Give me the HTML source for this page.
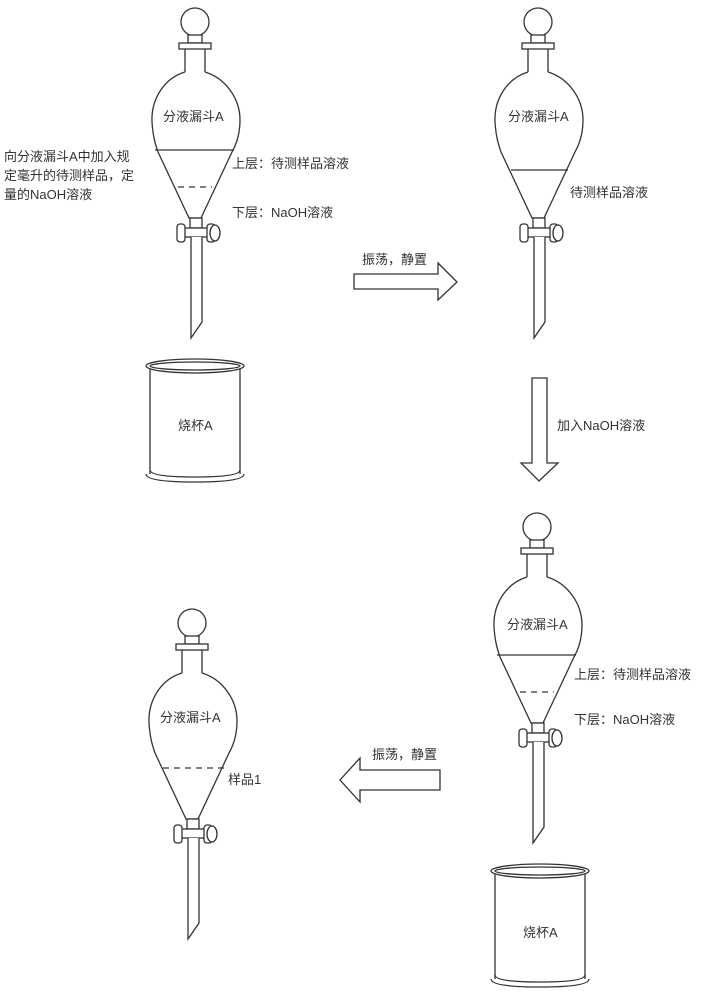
<!DOCTYPE html>
<html><head><meta charset="utf-8"><style>
html,body{margin:0;padding:0;background:#fff;}
svg{display:block;}
text{font-family:"Liberation Sans","Noto Sans CJK SC",sans-serif;font-size:13px;fill:#333;}
</style></head><body>
<svg width="702" height="1000" viewBox="0 0 702 1000" xmlns="http://www.w3.org/2000/svg">
<defs>
<g id="fun" fill="#fff" stroke="#333" stroke-width="1.3">
  <circle cx="195" cy="22" r="14"/>
  <rect x="188" y="35" width="14" height="8"/>
  <rect x="179" y="43" width="32" height="6"/>
  <path d="M185,49 L185,72 M205,49 L205,72" fill="none"/>
  <path d="M185,72 C165,78 151,98 152,122 C153,138 156,146 158,152 L189,218 L201,218 L232,152 C236,145 240,135 240,120 C240,98 225,78 205,72"/>
  <rect x="190" y="218" width="12" height="10"/>
  <rect x="182" y="228" width="28" height="9"/>
  <rect x="177" y="224" width="8" height="18" rx="3"/>
  <rect x="207" y="224" width="8" height="18" rx="3"/>
  <ellipse cx="215" cy="233" rx="5" ry="8"/>
  <path d="M191,237 L191,338 L202,322 L202,237" />
</g>
<g id="bk" fill="#fff" stroke="#333" stroke-width="1.3">
  <path d="M150,368 L150,474 M240,368 L240,474" fill="none"/>
  <ellipse cx="195" cy="366" rx="49" ry="7"/>
  <ellipse cx="195" cy="366" rx="45" ry="4"/>
  <path d="M146,474 Q146,482 195,482 Q244,482 244,474" fill="none"/>
  <path d="M150,470 Q150,477 195,477 Q240,477 240,470" fill="none"/>
</g>
</defs>

<!-- funnel 1 -->
<use href="#fun"/>
<line x1="155" y1="150" x2="234" y2="150" stroke="#333" stroke-width="1.2"/>
<line x1="178" y1="187" x2="212" y2="187" stroke="#333" stroke-width="1.2" stroke-dasharray="6,5"/>
<text x="163" y="121">分液漏斗A</text>
<text x="232" y="168">上层：待测样品溶液</text>
<text x="232" y="217">下层：NaOH溶液</text>
<text x="4" y="161">向分液漏斗A中加入规</text>
<text x="4" y="180">定毫升的待测样品，定</text>
<text x="4" y="199">量的NaOH溶液</text>
<use href="#bk"/>
<text x="178" y="430">烧杯A</text>

<!-- arrow right -->
<path d="M354,274 L438,274 L438,263 L457,282 L438,300 L438,289 L354,289 Z" fill="#fff" stroke="#333" stroke-width="1.3"/>
<text x="362" y="264">振荡，静置</text>

<!-- funnel 2 -->
<use href="#fun" transform="translate(343,0)"/>
<line x1="511" y1="170" x2="568" y2="170" stroke="#333" stroke-width="1.2"/>
<text x="508" y="121">分液漏斗A</text>
<text x="570" y="197">待测样品溶液</text>

<!-- arrow down -->
<path d="M532,378 L547,378 L547,463 L558,463 L539,481 L521,463 L532,463 Z" fill="#fff" stroke="#333" stroke-width="1.3"/>
<text x="557" y="430">加入NaOH溶液</text>

<!-- funnel 3 -->
<use href="#fun" transform="translate(342,505)"/>
<line x1="497" y1="655" x2="576" y2="655" stroke="#333" stroke-width="1.2"/>
<line x1="520" y1="692" x2="554" y2="692" stroke="#333" stroke-width="1.2" stroke-dasharray="6,5"/>
<text x="507" y="629">分液漏斗A</text>
<text x="574" y="679">上层：待测样品溶液</text>
<text x="574" y="724">下层：NaOH溶液</text>
<use href="#bk" transform="translate(345,505)"/>
<text x="523" y="937">烧杯A</text>

<!-- arrow left -->
<path d="M440,770 L360,770 L360,758 L340,780 L360,802 L360,790 L440,790 Z" fill="#fff" stroke="#333" stroke-width="1.3"/>
<text x="372" y="759">振荡，静置</text>

<!-- funnel 4 -->
<use href="#fun" transform="translate(-3,601)"/>
<line x1="163" y1="768" x2="228" y2="768" stroke="#333" stroke-width="1.2" stroke-dasharray="6,5"/>
<text x="160" y="722">分液漏斗A</text>
<text x="228" y="784">样品1</text>
</svg>
</body></html>
